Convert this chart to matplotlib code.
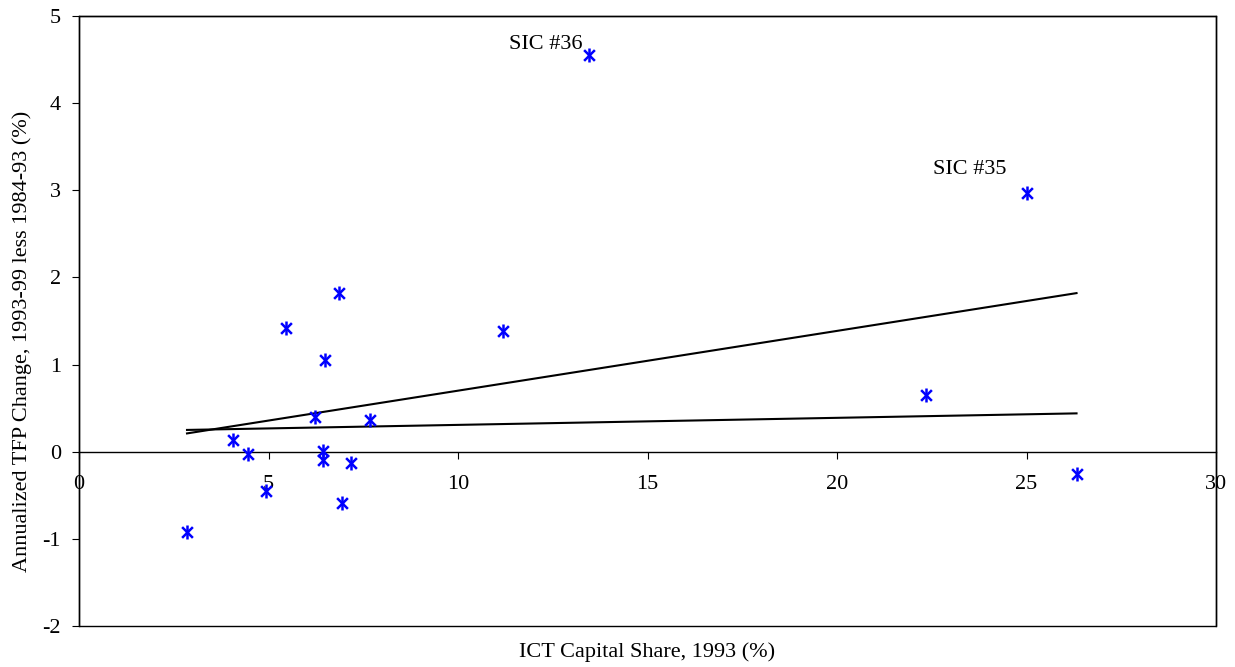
import matplotlib
matplotlib.use("Agg")
import matplotlib.pyplot as plt
from matplotlib.patches import Rectangle

plt.rcParams['font.family'] = ['Liberation Serif', 'DejaVu Serif']

# ICT capital share 1993 (%) and TFP change (%)
ict_share = [25.0, 13.45, 22.35, 26.32, 6.87, 5.47, 6.48, 6.22, 7.68, 4.06,
             4.46, 6.43, 6.45, 7.18, 4.94, 6.94, 2.85, 11.19]
tfp_change = [2.97, 4.55, 0.65, -0.26, 1.82, 1.42, 1.05, 0.40, 0.36, 0.13,
              -0.03, 0.01, -0.09, -0.13, -0.45, -0.59, -0.92, 1.38]

# Trend lines (endpoints)
fit_x = [2.85, 26.32]
fit_all = [0.21, 1.82]
fit_excl = [0.25, 0.44]

labels = ["SIC #35", "SIC #36"]
label_x = [25.0, 13.45]
label_y = [2.97, 4.55]
label_offsets = [(-20, 23), (-6, 11)]

x_ticks = [0, 5, 10, 15, 20, 25, 30]
y_ticks = [-2, -1, 0, 1, 2, 3, 4, 5]

FS = 16

W, H = 1235, 667
fig = plt.figure(figsize=(W / 100, H / 100), dpi=100)
ax = fig.add_axes([79 / W, 1 - 626 / H, (1216 - 79) / W, (626 - 16) / H])

ax.plot(fit_x, fit_all, color='black', lw=1.5, zorder=2)
ax.plot(fit_x, fit_excl, color='black', lw=1.5, zorder=2)

ax.scatter(ict_share, tfp_change, marker='x', s=60, color='#0000ff', linewidths=1.8, zorder=3)
ax.scatter(ict_share, tfp_change, marker='|', s=110, color='#0000ff', linewidths=1.8, zorder=3)

for t, x, y, off in zip(labels, label_x, label_y, label_offsets):
    ax.annotate(t, (x, y), xytext=off, textcoords='offset pixels',
                ha='right', va='center', fontsize=FS)

ax.set_xlim(0, 30)
ax.set_ylim(-2, 5)
ax.set_xticks(x_ticks)
ax.set_yticks(y_ticks)
ax.set_xticklabels([str(v) for v in x_ticks])
ax.set_yticklabels([str(v) for v in y_ticks])

ax.spines['bottom'].set_position(('data', 0))
for s in ['left', 'top', 'right', 'bottom']:
    ax.spines[s].set_color('black')
    ax.spines[s].set_linewidth(1.0)

# bottom border of plot area
ax.add_patch(Rectangle((0, 0), 1, 1, transform=ax.transAxes, fill=False,
                       edgecolor='black', lw=1.0, clip_on=False, zorder=1))

ax.tick_params(axis='x', direction='out', length=5, width=0.8, pad=12, labelsize=FS)
ax.tick_params(axis='y', direction='out', length=5, width=0.8, pad=8, labelsize=FS)

fig.text(647 / W, 1 - 652 / H, 'ICT Capital Share, 1993 (%)', ha='center', va='center', fontsize=FS)
fig.text(22 / W, 1 - 341 / H, 'Annualized TFP Change, 1993-99 less 1984-93 (%)',
         ha='center', va='center', rotation=90, fontsize=FS)

fig.savefig('out.png', dpi=100)
